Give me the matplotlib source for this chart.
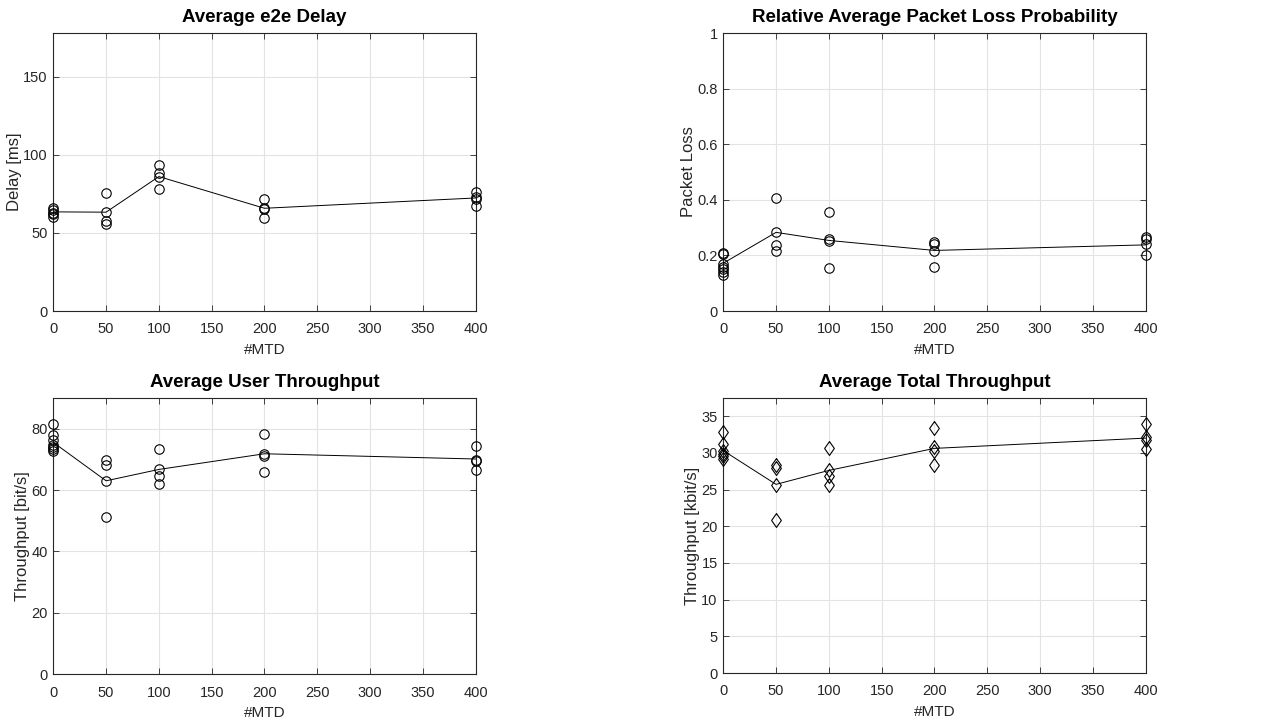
import numpy as np
import matplotlib
matplotlib.use("Agg")
import matplotlib.pyplot as plt

# ---------------- DATA ----------------
mtd = [0, 50, 100, 200, 400]

delay_runs = [
    [66, 64.5, 63, 62, 60.5],
    [75.4, 63.5, 57.7, 55.8],
    [93.2, 88.2, 86.1, 78.2],
    [71.8, 66.2, 65.2, 59.8],
    [76.5, 73.3, 72.0, 67.5],
]
delay_mean = [63.5, 63.3, 86.1, 65.8, 72.4]

loss_runs = [
    [0.21, 0.205, 0.17, 0.16, 0.15, 0.14, 0.13],
    [0.405, 0.285, 0.238, 0.215],
    [0.355, 0.258, 0.252, 0.155],
    [0.25, 0.24, 0.215, 0.16],
    [0.265, 0.258, 0.24, 0.2],
]
loss_mean = [0.172, 0.283, 0.254, 0.218, 0.238]

user_tp_runs = [
    [81.6, 77.8, 76.2, 74.8, 74.0, 73.4, 72.6],
    [69.8, 68.1, 63.0, 51.3],
    [73.5, 66.9, 64.5, 61.8],
    [78.2, 71.7, 71.0, 66.0],
    [74.4, 69.9, 69.4, 66.6],
]
user_tp_mean = [75.5, 63.0, 66.7, 71.8, 70.1]

total_tp_runs = [
    [32.8, 31.2, 30.3, 29.8, 29.5, 29.1],
    [28.3, 27.9, 25.6, 20.9],
    [30.6, 27.7, 26.8, 25.6],
    [33.4, 30.8, 30.3, 28.4],
    [33.9, 32.1, 31.8, 30.5],
]
total_tp_mean = [30.3, 25.7, 27.6, 30.6, 32.0]

# ---------------- STYLE ----------------
plt.rcParams['font.family'] = ['Liberation Sans', 'DejaVu Sans']
AX_COLOR = '#262626'
diamond = [(0, 1), (0.7, 0), (0, -1), (-0.7, 0), (0, 1)]

fig = plt.figure(figsize=(12.81, 7.23), dpi=100)

W = 0.3297
H_TOP = 0.3845
H_BOT = 0.3817
panels = [
    # rect, runs, mean, title, ylabel, ylim, yticks, marker, ms
    ([0.0416, 0.5698, W, H_TOP], delay_runs, delay_mean, 'Average e2e Delay',
     'Delay [ms]', 178, [0, 50, 100, 150], 'o', 6.8),
    ([0.5646, 0.5698, W, H_TOP], loss_runs, loss_mean, 'Relative Average Packet Loss Probability',
     'Packet Loss', 1, [0, 0.2, 0.4, 0.6, 0.8, 1], 'o', 6.8),
    ([0.0416, 0.0672, W, H_BOT], user_tp_runs, user_tp_mean, 'Average User Throughput',
     'Throughput [bit/s]', 89.8, [0, 20, 40, 60, 80], 'o', 6.8),
    ([0.5646, 0.0690, W, H_BOT - 0.0018], total_tp_runs, total_tp_mean, 'Average Total Throughput',
     'Throughput [kbit/s]', 37.4, [0, 5, 10, 15, 20, 25, 30, 35], diamond, 10),
]

for rect, runs, mean, title, ylabel, ytop, yticks, mk, ms in panels:
    ax = fig.add_axes(rect)
    for x, vals in zip(mtd, runs):
        ax.plot([x] * len(vals), vals, linestyle='none', marker=mk, ms=ms,
                mfc='none', mec='black', mew=0.8, clip_on=False, zorder=3)
    ax.plot(mtd, mean, color='black', lw=0.7, zorder=3)
    ax.set_xlim(0, 400)
    ax.set_ylim(0, ytop)
    ax.set_xticks(range(0, 401, 50))
    ax.set_yticks(yticks)
    ax.set_yticklabels([('%g' % t) for t in yticks])
    ax.grid(True, color='#e3e3e3', lw=0.8)
    ax.set_axisbelow(True)
    ax.tick_params(direction='in', top=True, right=True, length=4, width=0.6,
                   colors=AX_COLOR, labelsize=10.5)
    ax.tick_params(axis='x', pad=8)
    ax.tick_params(axis='y', pad=4)
    for s in ax.spines.values():
        s.set_color(AX_COLOR)
        s.set_linewidth(0.8)
    ax.set_title(title, fontsize=13.5, fontweight='bold', pad=8)
    ax.set_xlabel('#MTD', fontsize=11, color=AX_COLOR, labelpad=5)
    ax.set_ylabel(ylabel, fontsize=12, color=AX_COLOR, labelpad=1)

fig.savefig('out.png', dpi=100)
